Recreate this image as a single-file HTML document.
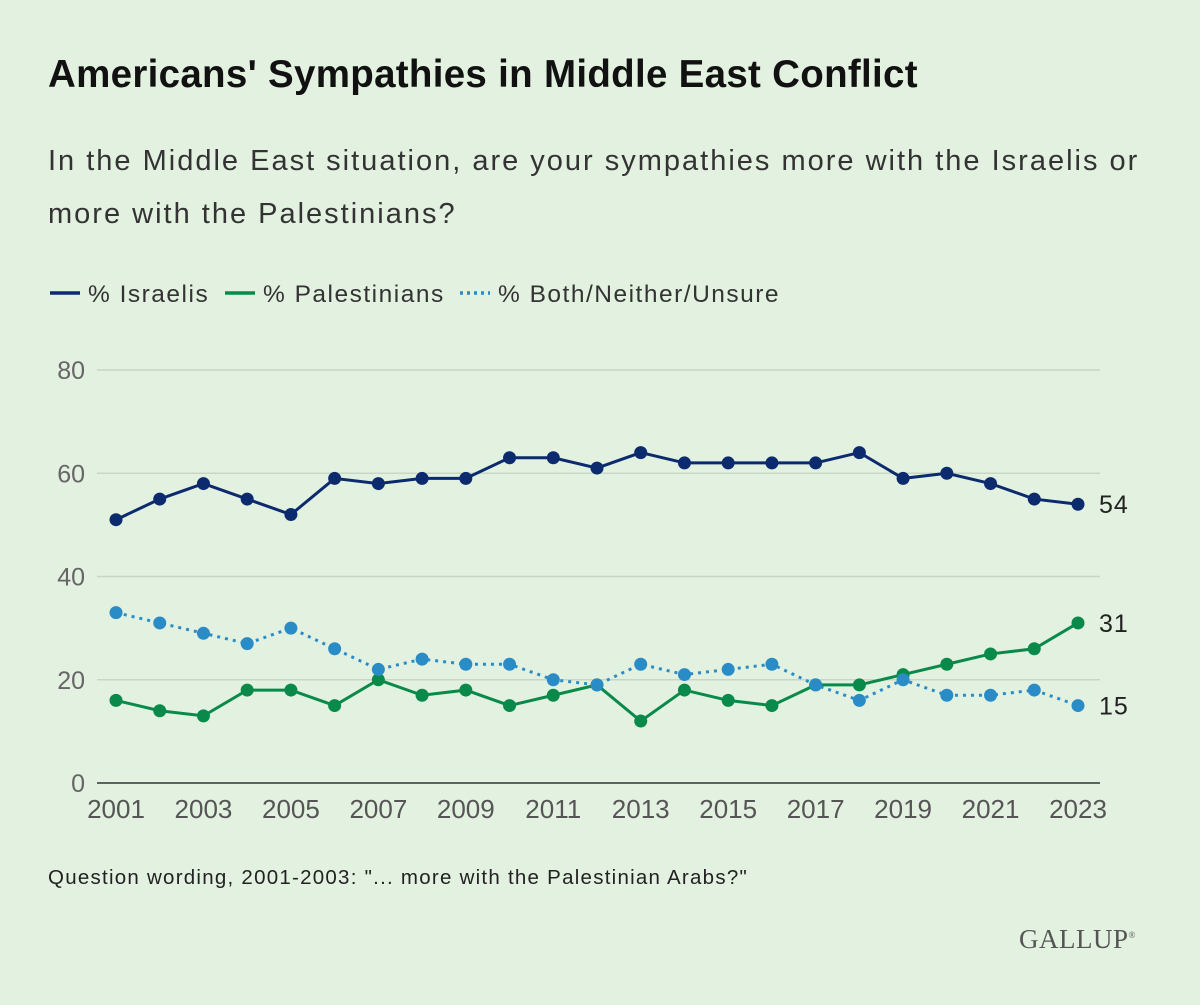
<!DOCTYPE html>
<html><head><meta charset="utf-8"><style>
body{margin:0;background:#e3f1e0;font-family:"Liberation Sans",sans-serif;}
#wrap{position:relative;width:1200px;height:1005px;overflow:hidden;background:#e3f1e0;}
.t{position:absolute;color:#222;white-space:nowrap;}
</style></head><body>
<div id="wrap">
<div class="t" style="left:48px;top:53px;font-size:38.5px;font-weight:bold;color:#111;letter-spacing:0.3px;">Americans' Sympathies in Middle East Conflict</div>
<div class="t" style="left:48px;top:135px;font-size:29px;line-height:53px;color:#333;white-space:normal;width:1130px;letter-spacing:2px;">In the Middle East situation, are your sympathies more with the Israelis or more with the Palestinians?</div>
<svg id="chart" width="1200" height="1005" style="position:absolute;left:0;top:0"></svg>
<div class="t" style="left:48px;top:866px;font-size:20.5px;color:#222;letter-spacing:1.25px;">Question wording, 2001-2003: "... more with the Palestinian Arabs?"</div>
<div class="t" style="left:1019px;top:924px;font-size:27px;font-family:'Liberation Serif',serif;color:#555;letter-spacing:0.5px;">GALLUP<sup style="font-size:9px">®</sup></div>
</div>
<script>
const years=[2001,2002,2003,2004,2005,2006,2007,2008,2009,2010,2011,2012,2013,2014,2015,2016,2017,2018,2019,2020,2021,2022,2023];
const israelis=[51,55,58,55,52,59,58,59,59,63,63,61,64,62,62,62,62,64,59,60,58,55,54];
const palestinians=[16,14,13,18,18,15,20,17,18,15,17,19,12,18,16,15,19,19,21,23,25,26,31];
const both=[33,31,29,27,30,26,22,24,23,23,20,19,23,21,22,23,19,16,20,17,17,18,15];
const yTicks=[0,20,40,60,80];
const xTicks=[2001,2003,2005,2007,2009,2011,2013,2015,2017,2019,2021,2023];
const NS="http://www.w3.org/2000/svg";
const svg=document.getElementById('chart');
const x=v=>116+(v-2001)*(1078-116)/22;
const y=v=>783-v*(783-370)/80;
function mk(t,a){const e=document.createElementNS(NS,t);for(const k in a)e.setAttribute(k,a[k]);svg.appendChild(e);return e;}
yTicks.forEach(v=>{
 const l=mk('line',{x1:97,x2:1100,y1:y(v),y2:y(v),stroke:v===0?'#333':'#c8d6c6','stroke-width':1.5});
 
 
 const t=mk('text',{x:85,y:y(v)+9,'text-anchor':'end','font-size':25,fill:'#666'});t.textContent=v;
 
 
});
xTicks.forEach(v=>{
 const t=mk('text',{x:x(v),y:y(0)+35,'text-anchor':'middle','font-size':26,fill:'#555'});t.textContent=v;
 
 
});
const series=[[israelis,'#0c2a6e','','israelis'],[palestinians,'#0a8a4a','','palestinians'],[both,'#2a8cc6','3,5','both']];
series.forEach(([d,c,dash,n])=>{
 const p=mk('polyline',{points:d.map((v,i)=>x(years[i])+','+y(v)).join(' '),fill:'none',stroke:c,'stroke-width':3,'stroke-dasharray':dash});
 
 
 d.forEach((v,i)=>{const ci=mk('circle',{cx:x(years[i]),cy:y(v),r:6.5,fill:c});
  
  });
 const last=d[d.length-1];
 const t=mk('text',{x:1099,y:y(last)+9,'font-size':25,fill:'#222','letter-spacing':1});t.textContent=last;
 
 
});
const leg=[[50,'% Israelis','#0c2a6e',''],[225,'% Palestinians','#0a8a4a',''],[460,'% Both/Neither/Unsure','#2a8cc6','3,4']];
leg.forEach(([lx,txt,c,dash],i)=>{
 const l=mk('line',{x1:lx,x2:lx+30,y1:293,y2:293,stroke:c,'stroke-width':3.5,'stroke-dasharray':dash});
 
 
 const t=mk('text',{x:lx+38,y:302,'font-size':24.5,fill:'#333','letter-spacing':1.5});t.textContent=txt;
 
 
});
</script>
</body></html>
